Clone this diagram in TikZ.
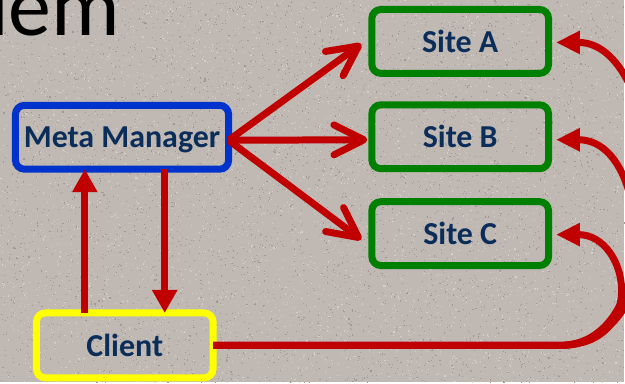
\documentclass[tikz,border=0pt]{standalone}
\usepackage{fontspec}
\setmainfont{Carlito}
\usetikzlibrary{arrows.meta,calc}

\definecolor{bgstone}{RGB}{192,184,178}
\definecolor{speckdark}{RGB}{160,152,147}
\definecolor{specklight}{RGB}{214,208,203}
\definecolor{linkred}{RGB}{192,0,0}
\definecolor{mmblue}{RGB}{0,51,204}
\definecolor{sitegreen}{RGB}{0,128,0}
\definecolor{clientyellow}{RGB}{255,255,0}
\definecolor{labelnavy}{RGB}{10,45,90}

\begin{document}
\begin{tikzpicture}[x=1pt,y=-1pt,
  box/.style={draw, line width=7pt, rounded corners=9pt, outer sep=0pt,
    inner sep=0pt, text=labelnavy, text depth=0pt,
    font=\fontsize{32}{34}\selectfont\bfseries},
  sitebox/.style={box, draw=sitegreen, minimum width=177pt, minimum height=64pt},
  link/.style={draw=linkred, line width=7pt, line cap=butt},
  fanlink/.style={link, -{Straight Barb[length=30pt,width=30pt,round]}},
  uplink/.style={link, -{Triangle[length=23pt,width=24pt]}},
  looplink/.style={link, -{Triangle[length=24pt,width=22pt]}}]

% stone background with a fine grain
\fill[bgstone] (0,0) rectangle (625,383);
\pgfmathsetseed{7}
\foreach \i in {1,...,4000}{
  \pgfmathsetmacro\px{rnd*625}\pgfmathsetmacro\py{rnd*383}
  \fill[speckdark] (\px,\py) rectangle ++(1.1,1.1);
}
\foreach \i in {1,...,4000}{
  \pgfmathsetmacro\px{rnd*625}\pgfmathsetmacro\py{rnd*383}
  \fill[specklight] (\px,\py) rectangle ++(1.1,1.1);
}
\useasboundingbox (0,0) rectangle (625,383);

% heading fragment at the top left
\node[anchor=base west, inner sep=0pt, font=\fontsize{86}{88}\selectfont] (title) at (-11,36) {lem};

% boxes
\node[box, draw=mmblue, minimum width=213.5pt, minimum height=64pt] (mm) at (122.25,137.5) {Meta Manager};
\node[sitebox] (siteA) at (461,41.5) {Site A};
\node[sitebox] (siteB) at (461,137) {Site B};
\node[sitebox] (siteC) at (461,234) {Site C};
\node[box, draw=clientyellow, minimum width=177pt, minimum height=65pt] (client) at (125,346) {Client};

% fan-out from the meta manager to the sites
\coordinate (fan) at ($(mm.east)+(0,3)$);
\draw[fanlink] (fan) -- ($(siteA.west)+(-10.5,2.5)$);
\draw[fanlink] (fan) -- ($(siteB.west)+(-4.5,3)$);
\draw[fanlink] (fan) -- ($(siteC.west)+(-10.5,6)$);

% client <-> meta manager
\coordinate (upfoot) at ($(client.north west)!0.274!(client.north east)$);
\coordinate (downfoot) at ($(client.north west)!0.726!(client.north east)$);
\draw[uplink] (upfoot) -- (upfoot |- mm.south);
\draw[uplink] (downfoot |- mm.south) -- (downfoot);

% client loops round to every site
\coordinate (turn) at ($(client.east)+(347,0)$);
\draw[looplink] (client.east) -- (turn) .. controls +(130,0) and +(113,0) .. ($(siteA.east)+(7.5,1)$);
\draw[looplink] (client.east) -- (turn) .. controls +(100,0) and +(98,0) .. ($(siteB.east)+(7.5,3)$);
\draw[looplink] (client.east) -- (turn) .. controls +(90,0) and +(73,0) .. ($(siteC.east)+(7.5,1)$);
\end{tikzpicture}
\end{document}
